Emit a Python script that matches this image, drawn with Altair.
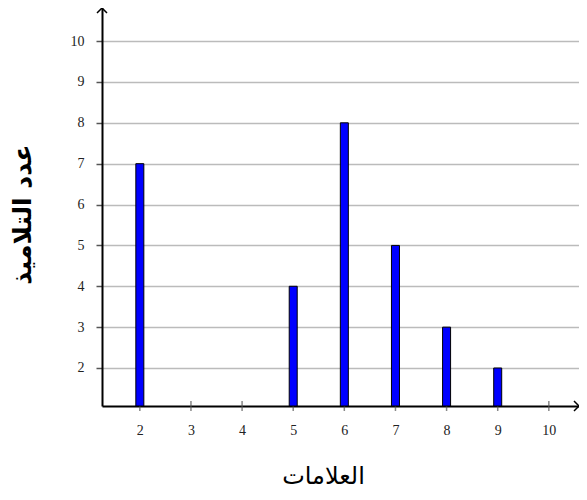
import altair as alt
import pandas as pd

marks = [2, 5, 6, 7, 8, 9]
counts = [7, 4, 8, 5, 3, 2]
x_ticks = [2, 3, 4, 5, 6, 7, 8, 9, 10]
y_ticks = [2, 3, 4, 5, 6, 7, 8, 9, 10]
x_title = "العلامات"
y_title = "عدد التلاميذ"

x_min, x_max = 1.26, 10.59
y_min, y_max = 1.07, 10.81

bars_df = pd.DataFrame({"mark": marks, "count": counts, "base": [y_min] * len(marks)})
ticks_df = pd.DataFrame({"mark": x_ticks, "base": [y_min] * len(x_ticks)})
xarrow_df = pd.DataFrame({"mark": [x_max], "count": [y_min]})
yarrow_df = pd.DataFrame({"mark": [x_min], "count": [y_max]})

xscale = alt.Scale(domain=[x_min, x_max], nice=False, zero=False, padding=0)
yscale = alt.Scale(domain=[y_min, y_max], nice=False, zero=False, padding=0)

x_axis = alt.Axis(
    values=x_ticks, title=x_title, tickSize=0, labelPadding=17,
    domainColor="black", domainWidth=2, grid=False,
    labelFont="Liberation Serif", labelFontSize=14, labelColor="#222",
    titleFont="DejaVu Sans", titleFontSize=24, titleFontWeight="normal",
    titleX=221, titleY=70, titleBaseline="middle", titleColor="black",
)
y_axis = alt.Axis(
    values=y_ticks, title=y_title, tickSize=6, tickColor="#555", tickWidth=1.5,
    grid=True, gridColor="#bbbbbb", gridWidth=1.5, labelPadding=12,
    domainColor="black", domainWidth=2,
    labelFont="Liberation Serif", labelFontSize=14, labelColor="#222",
    titleFont="DejaVu Sans", titleFontSize=25, titleFontWeight="bold",
    titleX=-80, titleY=206, titleBaseline="middle", titleColor="black",
)

ticks = alt.Chart(ticks_df).mark_tick(
    orient="vertical", size=10, thickness=1.5, color="#555"
).encode(
    x=alt.X("mark:Q", scale=xscale, axis=x_axis),
    y=alt.Y("base:Q", scale=yscale, axis=y_axis),
)

bars = alt.Chart(bars_df).mark_bar(
    size=8, color="#0000ff", stroke="black", strokeWidth=1
).encode(
    x=alt.X("mark:Q", scale=xscale),
    y=alt.Y("count:Q", scale=yscale),
    y2="base:Q",
)

xarrow = alt.Chart(xarrow_df).mark_point(
    shape="M-1,-1L0,0L-1,1", size=100, filled=False, stroke="black",
    strokeWidth=1.5, opacity=1,
).encode(x=alt.X("mark:Q", scale=xscale), y=alt.Y("count:Q", scale=yscale))

yarrow = alt.Chart(yarrow_df).mark_point(
    shape="M-1,1L0,0L1,1", size=100, filled=False, stroke="black",
    strokeWidth=1.5, opacity=1,
).encode(x=alt.X("mark:Q", scale=xscale), y=alt.Y("count:Q", scale=yscale))

chart = alt.layer(ticks, bars, xarrow, yarrow).properties(
    width=477, height=398,
    autosize=alt.AutoSizeParams(type="none"),
    padding={"left": 94, "top": 0, "right": 0, "bottom": 86},
).configure_view(stroke=None)

chart.save("out.html", embed_options={"renderer": "svg", "actions": False})
